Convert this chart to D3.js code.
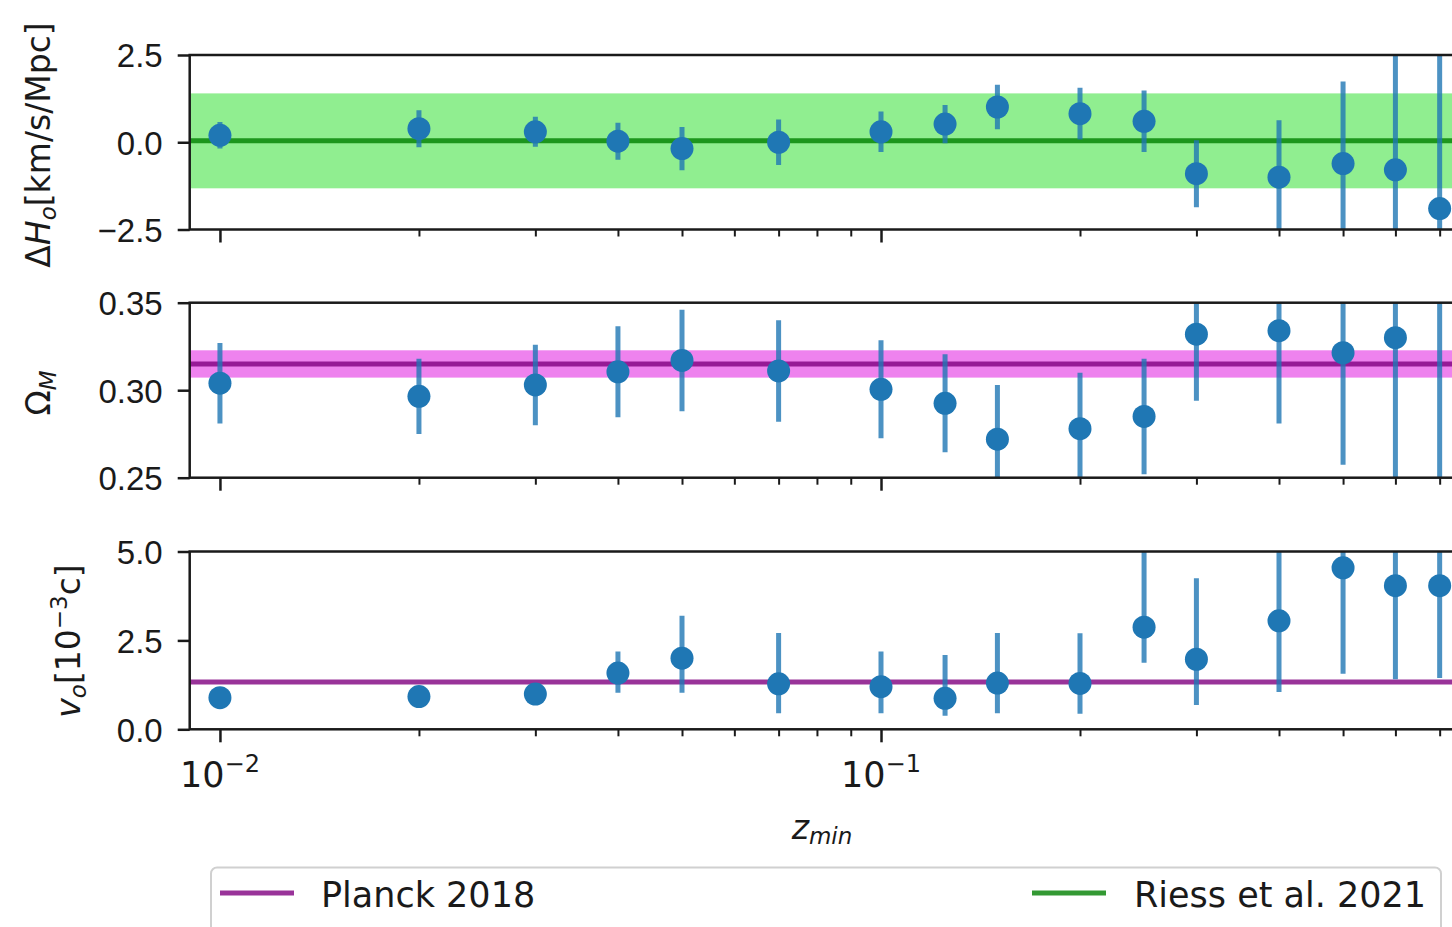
<!DOCTYPE html>
<html>
<head>
<meta charset="utf-8">
<script src="https://cdn.jsdelivr.net/npm/d3@7"></script>
<style>
  body { margin: 0; background: #fff; }
  svg { display: block; font-family: "DejaVu Sans", sans-serif; }
</style>
</head>
<body>
<div id="chart"></div>
<script>
// ---- data ----
const zMin = [0.01, 0.02, 0.03, 0.04, 0.05, 0.07, 0.1, 0.125, 0.15, 0.2, 0.25, 0.3, 0.4, 0.5, 0.6, 0.7];

const deltaH0    = [0.20, 0.39, 0.30, 0.03, -0.18, 0.00, 0.30, 0.52, 1.01, 0.82, 0.60, -0.90, -1.00, -0.61, -0.79, -1.90];
const deltaH0Err = [0.38, 0.53, 0.43, 0.53, 0.62, 0.65, 0.58, 0.55, 0.64, 0.74, 0.88, 0.96, 1.63, 2.35, 3.60, 4.60];

const omegaM    = [0.304, 0.2965, 0.303, 0.3105, 0.317, 0.311, 0.3005, 0.2925, 0.272, 0.278, 0.285, 0.332, 0.334, 0.3214, 0.330, 0.365];
const omegaMErr = [0.023, 0.0215, 0.023, 0.026, 0.029, 0.029, 0.028, 0.028, 0.031, 0.032, 0.033, 0.038, 0.053, 0.064, 0.090, 0.140];

const v0      = [0.89, 0.92, 0.99, 1.58, 2.00, 1.28, 1.20, 0.87, 1.30, 1.29, 2.87, 1.97, 3.05, 4.54, 4.04, 4.04];
const v0ErrLo = [0.10, 0.10, 0.15, 0.55, 0.97, 0.83, 0.75, 0.49, 0.85, 0.85, 1.00, 1.29, 2.00, 2.98, 2.63, 2.60];
const v0ErrHi = [0.10, 0.10, 0.15, 0.61, 1.19, 1.43, 0.99, 1.22, 1.41, 1.41, 2.30, 2.28, 2.40, 2.00, 2.00, 2.00];

// reference values
const riessH0 = 0.04, riessH0Err = 1.36;
const planckOmegaM = 0.315, planckOmegaMErr = 0.0078;
const planckV0 = 1.33;

// axes
const xLimits = [0.009, 0.8];
const xMajor = [0.01, 0.1];
const xMinor = [0.02, 0.03, 0.04, 0.05, 0.06, 0.07, 0.08, 0.09, 0.2, 0.3, 0.4, 0.5, 0.6, 0.7];
const h0Ticks = [-2.5, 0, 2.5];
const omTicks = [0.25, 0.30, 0.35];
const v0Ticks = [0, 2.5, 5];

const legendItems = ["Planck 2018", "Riess et al. 2021"];

// ---- drawing ----
const width = 1452, height = 927;
const left = 189.7, right = 1478;
const colors = {
    point: '#1f77b4',
    green: '#008000', greenBand: '#90ee90',
    purple: '#800080', purpleBand: '#ee82ee',
    spine: '#1a1a1a', text: '#1a1a1a'
};

const svg = d3.select('#chart').append('svg')
    .attr('width', width).attr('height', height)
    .style('overflow', 'hidden');

const x = d3.scaleLog().domain(xLimits).range([left, right]);

const panels = [
    {id: 'h0', top: 55, bottom: 229.5, lim: [-2.5, 2.5], ticks: h0Ticks, fmt: d3.format('.1f'),
     val: deltaH0, lo: deltaH0Err, hi: deltaH0Err},
    {id: 'om', top: 302.7, bottom: 477.7, lim: [0.25, 0.35], ticks: omTicks, fmt: d3.format('.2f'),
     val: omegaM, lo: omegaMErr, hi: omegaMErr},
    {id: 'v0', top: 551.5, bottom: 729.3, lim: [0, 5], ticks: v0Ticks, fmt: d3.format('.1f'),
     val: v0, lo: v0ErrLo, hi: v0ErrHi}
];

const defs = svg.append('defs');

panels.forEach((p, i) => {
    const y = d3.scaleLinear().domain(p.lim).range([p.bottom, p.top]);
    const g = svg.append('g');

    defs.append('clipPath').attr('id', 'clip-' + p.id)
        .append('rect')
        .attr('x', left).attr('y', p.top)
        .attr('width', right - left).attr('height', p.bottom - p.top);

    const inner = g.append('g').attr('clip-path', `url(#clip-${p.id})`);

    // reference band + line
    if (p.id === 'h0') {
        inner.append('rect')
            .attr('x', left).attr('width', right - left)
            .attr('y', y(riessH0 + riessH0Err))
            .attr('height', y(riessH0 - riessH0Err) - y(riessH0 + riessH0Err))
            .attr('fill', colors.greenBand);
        inner.append('line')
            .attr('x1', left).attr('x2', right)
            .attr('y1', y(riessH0)).attr('y2', y(riessH0))
            .attr('stroke', colors.green).attr('stroke-opacity', 0.8).attr('stroke-width', 5);
    } else if (p.id === 'om') {
        inner.append('rect')
            .attr('x', left).attr('width', right - left)
            .attr('y', y(planckOmegaM + planckOmegaMErr))
            .attr('height', y(planckOmegaM - planckOmegaMErr) - y(planckOmegaM + planckOmegaMErr))
            .attr('fill', colors.purpleBand);
        inner.append('line')
            .attr('x1', left).attr('x2', right)
            .attr('y1', y(planckOmegaM)).attr('y2', y(planckOmegaM))
            .attr('stroke', colors.purple).attr('stroke-opacity', 0.8).attr('stroke-width', 5);
    } else {
        inner.append('line')
            .attr('x1', left).attr('x2', right)
            .attr('y1', y(planckV0)).attr('y2', y(planckV0))
            .attr('stroke', colors.purple).attr('stroke-opacity', 0.8).attr('stroke-width', 5);
    }

    const rows = zMin.map((z, k) => ({z, v: p.val[k], lo: p.lo[k], hi: p.hi[k]}));

    // error bars
    inner.append('g').selectAll('line')
        .data(rows)
        .join('line')
        .attr('x1', d => x(d.z)).attr('x2', d => x(d.z))
        .attr('y1', d => y(d.v - d.lo)).attr('y2', d => y(d.v + d.hi))
        .attr('stroke', colors.point).attr('stroke-opacity', 0.8).attr('stroke-width', 5);

    // points
    inner.append('g').selectAll('circle')
        .data(rows)
        .join('circle')
        .attr('cx', d => x(d.z)).attr('cy', d => y(d.v))
        .attr('r', 11.5)
        .attr('fill', colors.point);

    // y axis
    const yAxis = g.append('g')
        .attr('transform', `translate(${left},0)`)
        .call(d3.axisLeft(y).tickValues(p.ticks).tickFormat(p.fmt).tickSize(12).tickPadding(15));
    yAxis.select('.domain').remove();
    yAxis.selectAll('.tick line').attr('stroke', colors.spine).attr('stroke-width', 2.5);
    yAxis.selectAll('.tick text')
        .attr('fill', colors.text).style('font-size', '33px')
        .attr('dy', '0.36em');

    // x ticks (major + minor)
    const xAxis = g.append('g')
        .attr('transform', `translate(0,${p.bottom})`)
        .call(d3.axisBottom(x).tickValues(xMajor).tickFormat('').tickSize(13));
    xAxis.select('.domain').remove();
    xAxis.selectAll('.tick line').attr('stroke', colors.spine).attr('stroke-width', 2.5);

    const xMinorAxis = g.append('g')
        .attr('transform', `translate(0,${p.bottom})`)
        .call(d3.axisBottom(x).tickValues(xMinor).tickFormat('').tickSize(7));
    xMinorAxis.select('.domain').remove();
    xMinorAxis.selectAll('.tick line').attr('stroke', colors.spine).attr('stroke-width', 2);

    // spines
    g.append('rect')
        .attr('x', left).attr('y', p.top)
        .attr('width', right - left).attr('height', p.bottom - p.top)
        .attr('fill', 'none').attr('stroke', colors.spine).attr('stroke-width', 2.5);

    // x tick labels on the bottom panel only
    if (i === panels.length - 1) {
        xMajor.forEach(v => {
            const t = svg.append('text')
                .attr('x', x(v)).attr('y', 787)
                .attr('text-anchor', 'middle')
                .attr('fill', colors.text);
            t.append('tspan').style('font-size', '35px').text('10');
            t.append('tspan').style('font-size', '24px').attr('dy', -15)
                .text('\u2212' + Math.round(-Math.log10(v)));
        });
    }
});

// y labels
function rotLabel(cx, cy) {
    return svg.append('text')
        .attr('transform', `translate(${cx},${cy}) rotate(-90)`)
        .attr('text-anchor', 'middle')
        .attr('fill', colors.text)
        .style('font-size', '33px');
}

const lab1 = rotLabel(50, 145);
lab1.append('tspan').text('\u0394');
lab1.append('tspan').style('font-style', 'italic').text('H');
lab1.append('tspan').style('font-style', 'italic').style('font-size', '23px').attr('dy', 6).text('o');
lab1.append('tspan').attr('dy', -6).text('[km/s/Mpc]');

const lab2 = rotLabel(50, 393);
lab2.append('tspan').text('\u03A9');
lab2.append('tspan').style('font-style', 'italic').style('font-size', '23px').attr('dy', 6).text('M');

const lab3 = rotLabel(80, 641);
lab3.append('tspan').style('font-style', 'italic').text('v');
lab3.append('tspan').style('font-style', 'italic').style('font-size', '23px').attr('dy', 6).text('o');
lab3.append('tspan').attr('dy', -6).text('[10');
lab3.append('tspan').style('font-size', '23px').attr('dy', -13).text('\u22123');
lab3.append('tspan').attr('dy', 13).text('c]');

// x label
const xl = svg.append('text')
    .attr('x', 822).attr('y', 839)
    .attr('text-anchor', 'middle')
    .attr('fill', colors.text)
    .style('font-style', 'italic');
xl.append('tspan').style('font-size', '33px').text('z');
xl.append('tspan').style('font-size', '23px').attr('dy', 5).text('min');

// legend
const legend = svg.append('g');
legend.append('rect')
    .attr('x', 211).attr('y', 867.5)
    .attr('width', 1230).attr('height', 90)
    .attr('rx', 6)
    .attr('fill', '#fff').attr('stroke', '#d0d0d0').attr('stroke-width', 2);

const legendPos = [{x0: 220, tx: 321, color: colors.purple}, {x0: 1032, tx: 1134, color: colors.green}];
legendItems.forEach((name, k) => {
    const lp = legendPos[k];
    legend.append('line')
        .attr('x1', lp.x0).attr('x2', lp.x0 + 74)
        .attr('y1', 893).attr('y2', 893)
        .attr('stroke', lp.color).attr('stroke-opacity', 0.8).attr('stroke-width', 5);
    legend.append('text')
        .attr('x', lp.tx).attr('y', 907)
        .attr('fill', colors.text)
        .style('font-size', '35px')
        .text(name);
});
</script>
</body>
</html>
